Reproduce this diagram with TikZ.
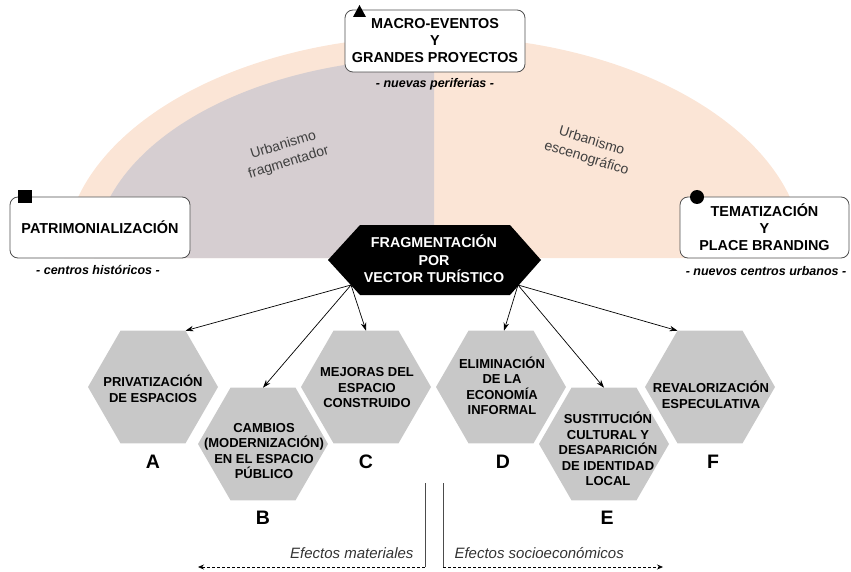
\documentclass[tikz,border=0pt]{standalone}
\usepackage{fontspec}
\setmainfont{Liberation Sans}
\usetikzlibrary{arrows.meta,calc}
\definecolor{peach}{RGB}{251,229,214}
\definecolor{mauve}{RGB}{214,206,209}
\definecolor{hexgray}{RGB}{200,200,200}
\definecolor{boxline}{RGB}{80,80,80}
\newcommand\myhex[2]{%
  \coordinate (#1) at #2;
  \fill[hexgray] ($(#1)+(65,0)$) -- ($(#1)+(32.5,56.3)$) -- ($(#1)+(-32.5,56.3)$) -- ($(#1)+(-65,0)$) -- ($(#1)+(-32.5,-56.3)$) -- ($(#1)+(32.5,-56.3)$) -- cycle;
}
\begin{document}
\begin{tikzpicture}[x=1pt,y=1pt,
  box/.style={draw=boxline,line width=0.8pt,fill=white,rounded corners=8pt,inner sep=0pt},
  boxtext/.style={align=center,font=\fontsize{14.4}{17}\selectfont\bfseries},
  sub/.style={font=\fontsize{12.5}{14}\selectfont\bfseries\itshape},
  hextext/.style={align=center,font=\fontsize{13}{15.5}\selectfont\bfseries,inner sep=0pt},
  letter/.style={font=\fontsize{19.5}{21}\selectfont\bfseries},
  arr/.style={-{Stealth[length=8pt,width=5.5pt]},line width=0.7pt},
  effline/.style={draw=black!70,line width=0.8pt},
  effdash/.style={dashed,dash pattern=on 3pt off 2pt,line width=0.7pt,-{Stealth[length=6pt,width=5pt]}},
  eff/.style={font=\fontsize{15}{17}\selectfont\itshape,text=black!80},
  urb/.style={font=\fontsize{14}{18}\selectfont,text=black!75,align=center}
]
\useasboundingbox (0,0) rectangle (851,-572);

% background half ellipse
\fill[peach] (64,-258) arc[start angle=180,end angle=0,x radius=370,y radius=222] -- cycle;
\fill[mauve] (434,-258) -- (94,-258) arc[start angle=180,end angle=90,x radius=340,y radius=200] -- cycle;

\node[urb,rotate=17] (urbf) at (286,-154) {Urbanismo\\fragmentador};
\node[urb,rotate=-17] (urbe) at (589,-150) {Urbanismo\\escenográfico};

% top boxes
\node[box,minimum width=180pt,minimum height=62pt,boxtext] (macro) at (435,-41) {MACRO-EVENTOS\\Y\\GRANDES PROYECTOS};
\fill (353,-17) -- (366,-17) -- (359.5,-5) -- cycle;
\node[sub] (macrosub) at (435,-84) {- nuevas periferias -};

\node[box,minimum width=180pt,minimum height=61pt,boxtext] (patri) at (100,-227.5) {PATRIMONIALIZACIÓN};
\fill (18,-190) rectangle (32,-203);
\node[sub] (patrisub) at (98,-270) {- centros históricos -};

\node[box,minimum width=169pt,minimum height=61pt,boxtext] (tema) at (764.5,-227.5) {TEMATIZACIÓN\\Y\\PLACE BRANDING};
\fill (697,-197) circle (7);
\node[sub] (temasub) at (766,-271) {- nuevos centros urbanos -};

% central black shape
\fill (328,-260) -- (360,-225) -- (510,-225) -- (541,-260) -- (510,-295) -- (360,-295) -- cycle;
\node[align=center,text=white,font=\fontsize{14.3}{17.5}\selectfont\bfseries] (frag) at (434,-259) {FRAGMENTACIÓN\\POR\\VECTOR TURÍSTICO};
\coordinate (fl) at (351,-285);
\coordinate (fr) at (518,-285);

% hexagons
\myhex{hA}{(153,-387)}
\myhex{hB}{(263,-444)}
\myhex{hC}{(366,-387)}
\myhex{hD}{(501,-387)}
\myhex{hE}{(604,-444)}
\myhex{hF}{(710,-387)}

\node[hextext] (tA) at (153,-389) {PRIVATIZACIÓN\\DE ESPACIOS};
\node[hextext] (tB) at (264,-451) {CAMBIOS\\(MODERNIZACIÓN)\\EN EL ESPACIO\\PÚBLICO};
\node[hextext] (tC) at (367,-388) {MEJORAS DEL\\ESPACIO\\CONSTRUIDO};
\node[hextext] (tD) at (502,-386) {ELIMINACIÓN\\DE LA\\ECONOMÍA\\INFORMAL};
\node[hextext] (tE) at (608,-449) {SUSTITUCIÓN\\CULTURAL Y\\DESAPARICIÓN\\DE IDENTIDAD\\LOCAL};
\node[hextext] (tF) at (711,-395) {REVALORIZACIÓN\\ESPECULATIVA};

\node[letter] (lA) at (153,-462) {A};
\node[letter] (lB) at (263,-518) {B};
\node[letter] (lC) at (366,-462) {C};
\node[letter] (lD) at (503,-462) {D};
\node[letter] (lE) at (607,-518) {E};
\node[letter] (lF) at (713,-462) {F};

% arrows
\draw[arr] (fl) -- ($(hA)+(32.5,56.3)$);
\draw[arr] (fl) -- ($(hB)+(0,56.3)$);
\draw[arr] (fl) -- ($(hC)+(0,56.3)$);
\draw[arr] (fr) -- ($(hD)+(3,56.3)$);
\draw[arr] (fr) -- ($(hE)+(0,56.3)$);
\draw[arr] (fr) -- ($(hF)+(-32.5,56.3)$);

% effects
\coordinate (mt) at (425,-483);
\coordinate (mb) at (425,-567);
\coordinate (me) at (198,-567);
\coordinate (st) at (443,-483);
\coordinate (sb) at (443,-567);
\coordinate (se) at (663,-567);
\draw[effline] (mt) -- (mb);
\draw[effline] (st) -- (sb);
\draw[effdash] (mb) -- (me);
\draw[effdash] (sb) -- (se);
\node[eff,anchor=east] (emat) at (417,-553) {Efectos materiales};
\node[eff,anchor=west] (esoc) at (451,-553) {Efectos socioeconómicos};
\end{tikzpicture}
\end{document}
